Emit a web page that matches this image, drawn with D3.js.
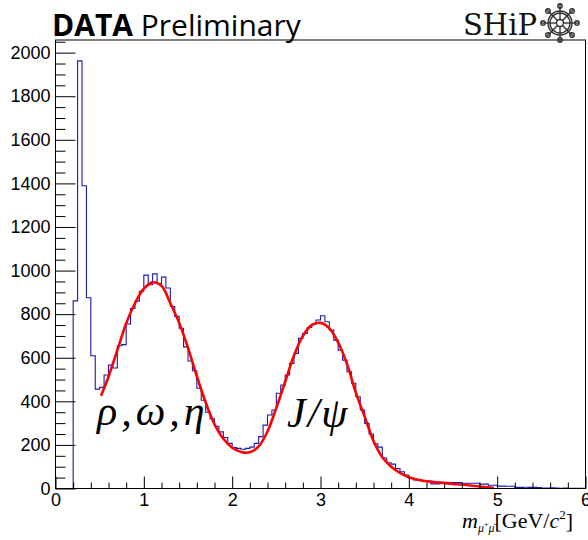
<!DOCTYPE html>
<html><head><meta charset="utf-8">
<script src="https://cdn.jsdelivr.net/npm/d3@7"></script>
<style>
html,body{margin:0;padding:0;background:#fff;}
svg{display:block;}
</style></head>
<body>
<svg id="c" width="588" height="540"></svg>
<script>
// ---- data ----
const binStart = 0.0;
const binWidth = 0.05;
const counts = [
  0,0,0,0,861,1962,1389,875,609,456,
  464,521,566,553,655,660,755,826,860,905,
  979,935,985,940,970,920,835,790,735,650,
  585,540,460,405,350,320,285,260,234,207,
  188,184,180,184,190,207,238,291,337,360,
  437,475,521,574,620,689,712,739,754,773,
  793,765,727,681,635,589,536,483,421,360,
  299,250,205,190,140,118,112,92,77,62,
  47,39,39,34,34,21,21,28,28,27,
  27,27,24,24,24,24,20,20,15,15,
  11,11,10,10,5,5,6,5,5,4,
  2,2,3,2,1,2,1,1,1,1
];
const fitMass = [0.52,0.6,0.7,0.8,0.9,1.0,1.1,1.2,1.3,1.4,1.5,1.6,1.7,1.8,1.9,2.0,2.1,2.2,2.3,2.4,2.5,2.6,2.7,2.8,2.9,3.0,3.1,3.2,3.3,3.4,3.5,3.6,3.7,3.8,3.9,4.0,4.1,4.2,4.3,4.4,4.5,4.6,4.7,4.8,4.9,4.95];
const fitValue = [430,513,635,757,850,917,946,930,850,760,645,515,395,295,228,187,168,166,193,262,370,490,610,700,750,760,735,670,572,440,330,218,143,100,72,52,40,33,29,25,21,18,14,9,5,3];
const xTicksMajor = [0,1,2,3,4,5,6];
const yTicksMajor = [0,200,400,600,800,1000,1200,1400,1600,1800,2000];
const xDomain = [0,6];
const yDomain = [0,2058];

// ---- layout ----
const L = 55.5, R = 585.5, T = 40, B = 488.5;
const svg = d3.select("#c");
const x = d3.scaleLinear().domain(xDomain).range([L, R]);
const y = d3.scaleLinear().domain(yDomain).range([B, T]);

// histogram outline
let d = "M" + x(binStart) + "," + y(counts[0]);
counts.forEach((c, i) => {
  const x1 = x(binStart + (i + 1) * binWidth);
  d += "V" + y(c) + "H" + x1;
});
svg.append("path").attr("d", d).attr("fill", "none")
  .attr("stroke", "#1a1ab0").attr("stroke-width", 1.1);

// fit curve
const line = d3.line().x((m, i) => x(m)).y((m, i) => y(fitValue[i])).curve(d3.curveCatmullRom);
svg.append("path").attr("d", line(fitMass)).attr("fill", "none")
  .attr("stroke", "#ff0000").attr("stroke-width", 2.6).attr("stroke-linecap", "round");

// axes
const font = "'Liberation Sans', Arial, sans-serif";
const yMinor = d3.range(0, 2051, 50).filter(v => v % 200 !== 0);
const xMinor = d3.range(0, 31).map(i => i * 0.2).filter(v => Math.abs(v - Math.round(v)) > 1e-6);

const gy = svg.append("g").attr("transform", `translate(${L},0)`);
gy.call(d3.axisLeft(y).tickValues(yTicksMajor).tickSize(-20).tickPadding(5).tickFormat(d3.format("d")));
const gym = svg.append("g").attr("transform", `translate(${L},0)`);
gym.call(d3.axisLeft(y).tickValues(yMinor).tickSize(-10).tickFormat(""));
const gx = svg.append("g").attr("transform", `translate(0,${B})`);
gx.call(d3.axisBottom(x).tickValues(xTicksMajor).tickSize(-12).tickPadding(5).tickFormat(d3.format("d")));
const gxm = svg.append("g").attr("transform", `translate(0,${B})`);
gxm.call(d3.axisBottom(x).tickValues(xMinor).tickSize(-6).tickFormat(""));
svg.selectAll(".domain").remove();
svg.selectAll(".tick line").attr("stroke", "#000").attr("stroke-width", 1);
svg.selectAll(".tick text").attr("font-family", font).attr("font-size", 18).attr("fill", "#000");

// frame
svg.append("rect").attr("x", L).attr("y", T).attr("width", R - L).attr("height", B - T)
  .attr("fill", "none").attr("stroke", "#000").attr("stroke-width", 1);

// title
const t = svg.append("text").attr("x", 52).attr("y", 36)
  .attr("font-family", "'Open Sans', 'Noto Sans', sans-serif").attr("font-size", 30).attr("fill", "#000");
t.append("tspan").attr("font-weight", "bold").text("DATA");
t.append("tspan").text(" Preliminary");

// SHiP logo
svg.append("text").attr("x", 463).attr("y", 35)
  .attr("font-family", "'DejaVu Serif', 'Liberation Serif', serif").attr("font-size", 29).attr("fill", "#111").text("SHiP");
const w = svg.append("g").attr("transform", "translate(560,23)").attr("stroke", "#333").attr("fill", "none").attr("stroke-width", 1.4);
w.append("circle").attr("r", 12);
w.append("circle").attr("r", 10);
w.append("circle").attr("r", 3.5);
d3.range(8).forEach(k => {
  const a = k * Math.PI / 4;
  w.append("line").attr("x1", 3.5 * Math.cos(a)).attr("y1", 3.5 * Math.sin(a))
    .attr("x2", 19 * Math.cos(a)).attr("y2", 19 * Math.sin(a));
  w.append("ellipse").attr("cx", 17 * Math.cos(a)).attr("cy", 17 * Math.sin(a)).attr("rx", 2.2).attr("ry", 2.2);
});

// peak labels
const mathFont = "'Liberation Serif', 'DejaVu Serif', serif";
svg.append("text").attr("x", 97).attr("y", 425).attr("font-family", mathFont).attr("font-style", "italic")
  .attr("font-size", 42).attr("letter-spacing", 4).attr("fill", "#000").text("ρ,ω,η");
svg.append("text").attr("x", 287).attr("y", 427).attr("font-family", mathFont).attr("font-style", "italic")
  .attr("font-size", 42).attr("letter-spacing", 2).attr("fill", "#000").text("J/ψ");

// x-axis title
const at = svg.append("text").attr("x", 462).attr("y", 528).attr("font-family", "'Liberation Serif', serif")
  .attr("font-size", 22).attr("fill", "#000");
at.append("tspan").attr("font-style", "italic").text("m");
at.append("tspan").attr("font-style", "italic").attr("font-size", 12).attr("dy", 4).text("μ");
at.append("tspan").attr("font-size", 8).attr("dy", -5).text("+");
at.append("tspan").attr("font-style", "italic").attr("font-size", 12).attr("dy", 5).text("μ̄");
at.append("tspan").attr("dy", -4).text("[GeV/");
at.append("tspan").attr("font-style", "italic").text("c");
at.append("tspan").attr("font-size", 13).attr("dy", -9).text("2");
at.append("tspan").attr("dy", 9).text("]");
</script>
</body></html>
